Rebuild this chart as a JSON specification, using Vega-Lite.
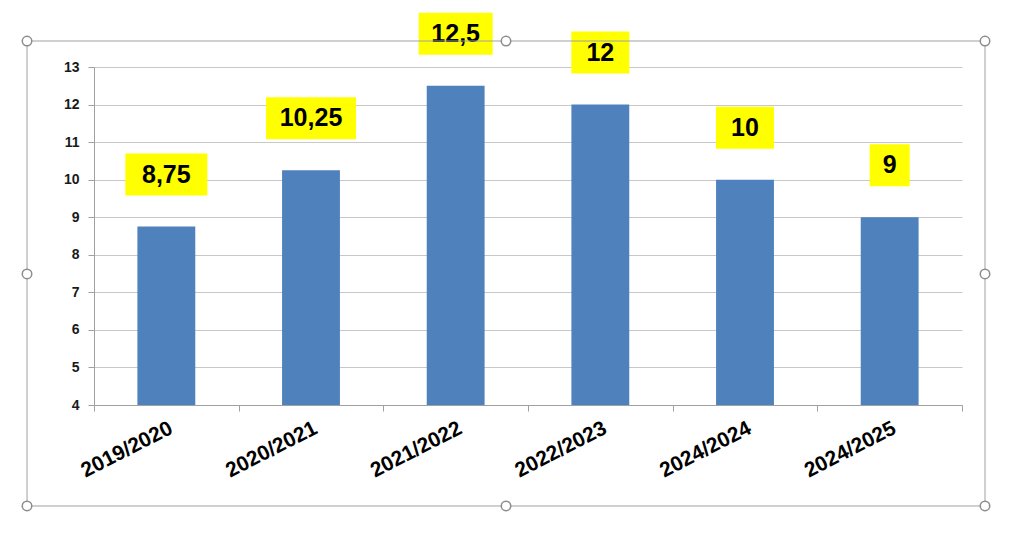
{
  "$schema": "https://vega.github.io/schema/vega-lite/v6.json",
  "width": 868,
  "height": 338,
  "autosize": {"type": "none"},
  "padding": {"left": 94, "top": 67, "right": 58, "bottom": 134},
  "background": "white",
  "config": {"view": {"stroke": null}, "font": "Liberation Sans"},
  "data": {"values": [
    {"season": "2019/2020", "value": 8.75, "label": "8,75"},
    {"season": "2020/2021", "value": 10.25, "label": "10,25"},
    {"season": "2021/2022", "value": 12.5, "label": "12,5"},
    {"season": "2022/2023", "value": 12, "label": "12"},
    {"season": "2024/2024", "value": 10, "label": "10"},
    {"season": "2024/2025", "value": 9, "label": "9"}
  ]},
  "resolve": {"scale": {"x": "independent", "y": "independent"}},
  "layer": [
    {
      "mark": {"type": "bar", "color": "#4f81bd"},
      "encoding": {
        "x": {"field": "season", "type": "nominal", "sort": null,
          "scale": {"paddingInner": 0.6, "paddingOuter": 0.3},
          "axis": {"orient": "bottom", "title": null, "domain": false, "ticks": false,
            "labelAngle": -27, "labelFontSize": 21, "labelFontWeight": "bold",
            "labelColor": "#000000", "labelPadding": 12, "labelFont": "Liberation Sans"}},
        "y": {"field": "value", "type": "quantitative",
          "scale": {"domain": [4, 13], "nice": false, "zero": false},
          "axis": {"orient": "left", "title": null, "values": [4, 5, 6, 7, 8, 9, 10, 11, 12, 13],
            "grid": true, "gridColor": "#c8c8c8", "gridWidth": 1,
            "domain": true, "domainColor": "#a0a0a0", "tickColor": "#a0a0a0", "tickSize": 6,
            "labelFont": "Liberation Sans", "labelFontSize": 14, "labelFontWeight": "bold", "labelColor": "#1a1a1a",
            "labelPadding": 9}},
        "y2": {"datum": 4}
      }
    },
    {
      "mark": {"type": "point", "filled": true, "fill": "#ffff00", "opacity": 1, "strokeWidth": 0, "size": 4, "yOffset": -52},
      "encoding": {
        "x": {"field": "season", "type": "nominal", "sort": null, "axis": null,
          "scale": {"paddingInner": 0.6, "paddingOuter": 0.3}},
        "y": {"field": "value", "type": "quantitative", "axis": null,
          "scale": {"domain": [4, 13], "nice": false, "zero": false}},
        "shape": {"field": "label", "type": "nominal", "legend": null,
          "scale": {"domain": ["8,75", "10,25", "12,5", "12", "10", "9"],
            "range": ["M-41,-21H41V21H-41Z", "M-45,-21H45V21H-45Z", "M-37,-21H37V21H-37Z", "M-29,-21H29V21H-29Z", "M-29,-21H29V21H-29Z", "M-20,-21H20V21H-20Z"]}}
      }
    },
    {
      "mark": {"type": "text", "fontSize": 25, "fontWeight": "bold", "color": "#000000", "baseline": "middle", "align": "center", "dy": -52, "font": "Liberation Sans"},
      "encoding": {
        "x": {"field": "season", "type": "nominal", "sort": null, "axis": null,
          "scale": {"paddingInner": 0.6, "paddingOuter": 0.3}},
        "y": {"field": "value", "type": "quantitative", "axis": null,
          "scale": {"domain": [4, 13], "nice": false, "zero": false}},
        "text": {"field": "label"}
      }
    },
    {
      "data": {"values": [{}]},
      "mark": {"type": "rect", "fill": null, "stroke": "#a0a0a0", "strokeWidth": 1},
      "encoding": {
        "x": {"datum": -0.463, "type": "quantitative",
          "scale": {"domain": [0, 6], "nice": false, "zero": false},
          "axis": {"orient": "bottom", "title": null, "values": [0, 1, 2, 3, 4, 5, 6],
            "labels": false, "grid": false, "domain": true, "domainColor": "#a0a0a0",
            "ticks": true, "tickSize": 6, "tickColor": "#a0a0a0"}},
        "x2": {"datum": 6.159},
        "y": {"datum": 13.692, "type": "quantitative", "axis": null,
          "scale": {"domain": [4, 13], "nice": false, "zero": false}},
        "y2": {"datum": 1.311}
      }
    },
    {"data": {"values": [{}]}, "mark": {"type": "point", "shape": "circle", "size": 90, "filled": true, "fill": "white", "stroke": "#8c8c8c", "strokeWidth": 1.5, "opacity": 1},
      "encoding": {"x": {"datum": -0.463, "type": "quantitative", "axis": null, "scale": {"domain": [0, 6], "nice": false, "zero": false}}, "y": {"datum": 13.692, "type": "quantitative", "axis": null, "scale": {"domain": [4, 13], "nice": false, "zero": false}}}},
    {"data": {"values": [{}]}, "mark": {"type": "point", "shape": "circle", "size": 90, "filled": true, "fill": "white", "stroke": "#8c8c8c", "strokeWidth": 1.5, "opacity": 1},
      "encoding": {"x": {"datum": 2.848, "type": "quantitative", "axis": null, "scale": {"domain": [0, 6], "nice": false, "zero": false}}, "y": {"datum": 13.692, "type": "quantitative", "axis": null, "scale": {"domain": [4, 13], "nice": false, "zero": false}}}},
    {"data": {"values": [{}]}, "mark": {"type": "point", "shape": "circle", "size": 90, "filled": true, "fill": "white", "stroke": "#8c8c8c", "strokeWidth": 1.5, "opacity": 1},
      "encoding": {"x": {"datum": 6.159, "type": "quantitative", "axis": null, "scale": {"domain": [0, 6], "nice": false, "zero": false}}, "y": {"datum": 13.692, "type": "quantitative", "axis": null, "scale": {"domain": [4, 13], "nice": false, "zero": false}}}},
    {"data": {"values": [{}]}, "mark": {"type": "point", "shape": "circle", "size": 90, "filled": true, "fill": "white", "stroke": "#8c8c8c", "strokeWidth": 1.5, "opacity": 1},
      "encoding": {"x": {"datum": -0.463, "type": "quantitative", "axis": null, "scale": {"domain": [0, 6], "nice": false, "zero": false}}, "y": {"datum": 7.489, "type": "quantitative", "axis": null, "scale": {"domain": [4, 13], "nice": false, "zero": false}}}},
    {"data": {"values": [{}]}, "mark": {"type": "point", "shape": "circle", "size": 90, "filled": true, "fill": "white", "stroke": "#8c8c8c", "strokeWidth": 1.5, "opacity": 1},
      "encoding": {"x": {"datum": 6.159, "type": "quantitative", "axis": null, "scale": {"domain": [0, 6], "nice": false, "zero": false}}, "y": {"datum": 7.489, "type": "quantitative", "axis": null, "scale": {"domain": [4, 13], "nice": false, "zero": false}}}},
    {"data": {"values": [{}]}, "mark": {"type": "point", "shape": "circle", "size": 90, "filled": true, "fill": "white", "stroke": "#8c8c8c", "strokeWidth": 1.5, "opacity": 1},
      "encoding": {"x": {"datum": -0.463, "type": "quantitative", "axis": null, "scale": {"domain": [0, 6], "nice": false, "zero": false}}, "y": {"datum": 1.311, "type": "quantitative", "axis": null, "scale": {"domain": [4, 13], "nice": false, "zero": false}}}},
    {"data": {"values": [{}]}, "mark": {"type": "point", "shape": "circle", "size": 90, "filled": true, "fill": "white", "stroke": "#8c8c8c", "strokeWidth": 1.5, "opacity": 1},
      "encoding": {"x": {"datum": 2.848, "type": "quantitative", "axis": null, "scale": {"domain": [0, 6], "nice": false, "zero": false}}, "y": {"datum": 1.311, "type": "quantitative", "axis": null, "scale": {"domain": [4, 13], "nice": false, "zero": false}}}},
    {"data": {"values": [{}]}, "mark": {"type": "point", "shape": "circle", "size": 90, "filled": true, "fill": "white", "stroke": "#8c8c8c", "strokeWidth": 1.5, "opacity": 1},
      "encoding": {"x": {"datum": 6.159, "type": "quantitative", "axis": null, "scale": {"domain": [0, 6], "nice": false, "zero": false}}, "y": {"datum": 1.311, "type": "quantitative", "axis": null, "scale": {"domain": [4, 13], "nice": false, "zero": false}}}}
  ]
}
